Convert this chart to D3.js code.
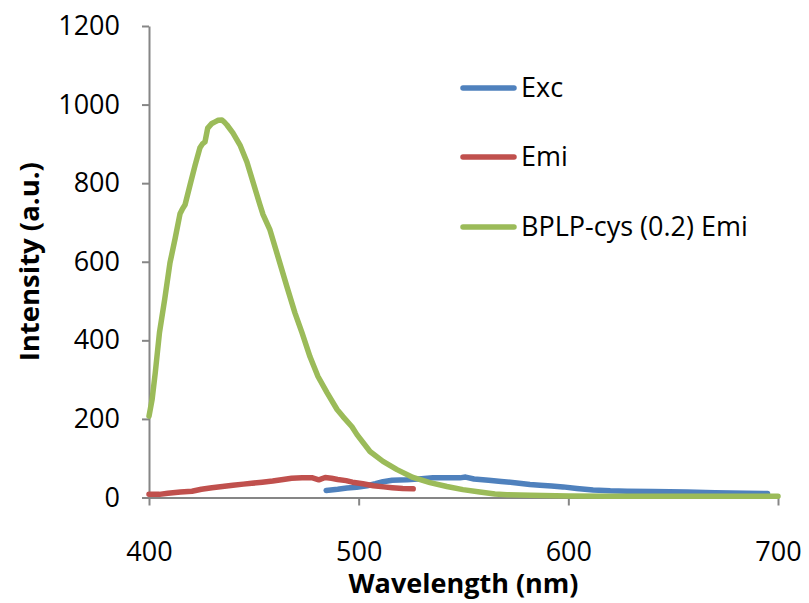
<!DOCTYPE html>
<html>
<head>
<meta charset="utf-8">
<script src="https://cdn.jsdelivr.net/npm/d3@7"></script>
<style>
  html, body { margin: 0; padding: 0; background: #fff; }
  svg text { font-family: "Open Sans", "Noto Sans", sans-serif; fill: #000; }
</style>
</head>
<body>
<svg id="chart" width="809" height="603"></svg>
<script>
// Excitation spectrum
const excWavelength = [484.5, 490, 494.4, 499, 504, 508, 511.6, 516, 523, 530, 535.4, 542, 548.3, 551, 555, 562, 568, 575.5, 581.7, 586.5, 592, 597.5, 604, 611.8, 620, 628, 640, 656.6, 670, 685, 695];
const excIntensity  = [18, 21, 24, 26, 30, 35, 40, 44, 45, 48, 50, 50, 50, 52, 47, 44, 41, 37, 33, 31, 29, 27, 23, 19, 17, 16, 15, 14, 12, 11, 10];

// Emission spectrum
const emiWavelength = [400, 405, 409, 415, 420.5, 425, 430, 435, 440, 445, 449, 454, 459, 464, 468, 473, 478, 481, 484, 487, 490, 494, 497, 502, 507, 512, 516, 521, 526];
const emiIntensity  = [8, 8, 11, 14, 16, 21, 25, 28, 31, 34, 36, 39, 42, 46, 49, 50, 50, 45, 51, 49, 46, 43, 39, 35, 30, 27, 25, 23, 22];

// BPLP-cys (0.2) emission spectrum
const bplpWavelength = [400, 401.5, 403, 405, 407.5, 410, 412.5, 414.8, 416, 417.2, 419.6, 422, 424.3, 425.5, 426.7, 428, 430, 431.5, 433, 434.8, 436, 437.2, 440, 443.4, 446.7, 449.6, 452.9, 454.4, 457.7, 461.5, 465.8, 469.6, 473, 476.8, 480.6, 484.9, 489.7, 492.5, 496.8, 499.2, 505.4, 511.6, 518.3, 525.9, 534, 542.1, 549.7, 557.8, 565, 570.7, 582, 600, 620, 650, 700];
const bplpIntensity  = [207, 250, 318, 420, 505, 597, 660, 722, 735, 745, 796, 846, 890, 900, 905, 940, 952, 956, 960, 961, 955, 948, 928, 897, 854, 803, 745, 720, 681, 613, 536, 470, 419, 358, 308, 267, 224, 206, 180, 160, 117, 92, 71, 51, 38, 28, 20, 14, 9, 7, 6, 4, 3, 3, 3];

const seriesNames  = ["Exc", "Emi", "BPLP-cys (0.2) Emi"];
const seriesColors = ["#4F81BD", "#C0504D", "#9BBB59"];

const xTicks = [400, 500, 600, 700];
const yTicks = [0, 200, 400, 600, 800, 1000, 1200];

const series = [
  { name: seriesNames[0], color: seriesColors[0], pts: excWavelength.map((w, i) => [w, excIntensity[i]]) },
  { name: seriesNames[1], color: seriesColors[1], pts: emiWavelength.map((w, i) => [w, emiIntensity[i]]) },
  { name: seriesNames[2], color: seriesColors[2], pts: bplpWavelength.map((w, i) => [w, bplpIntensity[i]]) }
];

const svg = d3.select("#chart");
const plot = { left: 149, right: 778, top: 26, bottom: 497.5 };

const x = d3.scaleLinear().domain([400, 700]).range([plot.left, plot.right]);
const y = d3.scaleLinear().domain([0, 1200]).range([plot.bottom, plot.top]);

const axisColor = "#868686";

// Y axis
const gy = svg.append("g")
  .attr("transform", `translate(${plot.left},0)`)
  .call(d3.axisLeft(y).tickValues(yTicks).tickSize(7).tickSizeOuter(0).tickPadding(22).tickFormat(d3.format("d")));
gy.select(".domain").attr("stroke", axisColor).attr("stroke-width", 2);
gy.selectAll(".tick line").attr("stroke", axisColor).attr("stroke-width", 2);
gy.selectAll(".tick text").attr("font-size", 27).attr("font-family", "Open Sans");

// X axis
const gx = svg.append("g")
  .attr("transform", `translate(0,${plot.bottom})`)
  .call(d3.axisBottom(x).tickValues(xTicks).tickSize(8).tickSizeOuter(0).tickFormat(d3.format("d")));
gx.select(".domain").attr("stroke", axisColor).attr("stroke-width", 2);
gx.selectAll(".tick line").attr("stroke", axisColor).attr("stroke-width", 2);
gx.selectAll(".tick text").attr("font-size", 27).attr("font-family", "Open Sans")
  .attr("y", 63).attr("dy", 0);

// Series lines
const line = d3.line().x(d => x(d[0])).y(d => y(d[1]));
svg.append("g").selectAll("path")
  .data(series)
  .join("path")
  .attr("d", d => line(d.pts))
  .attr("fill", "none")
  .attr("stroke", d => d.color)
  .attr("stroke-width", 5.5)
  .attr("stroke-linejoin", "round")
  .attr("stroke-linecap", "round");

// Axis titles
svg.append("text")
  .attr("x", (plot.left + plot.right) / 2)
  .attr("y", 593)
  .attr("text-anchor", "middle")
  .attr("font-size", 27)
  .attr("font-weight", "bold")
  .text("Wavelength (nm)");

svg.append("text")
  .attr("transform", `translate(39,${(plot.top + plot.bottom) / 2}) rotate(-90)`)
  .attr("text-anchor", "middle")
  .attr("font-size", 27.5)
  .attr("font-weight", "bold")
  .text("Intensity (a.u.)");

// Legend
const legendY = [88, 157, 227];
const legend = svg.append("g").selectAll("g")
  .data(series)
  .join("g")
  .attr("transform", (d, i) => `translate(0,${legendY[i]})`);
legend.append("line")
  .attr("x1", 463).attr("x2", 514)
  .attr("stroke", d => d.color)
  .attr("stroke-width", 5.5)
  .attr("stroke-linecap", "round");
legend.append("text")
  .attr("x", 521)
  .attr("dy", "0.35em")
  .attr("font-size", 27)
  .text(d => d.name);
</script>
</body>
</html>
